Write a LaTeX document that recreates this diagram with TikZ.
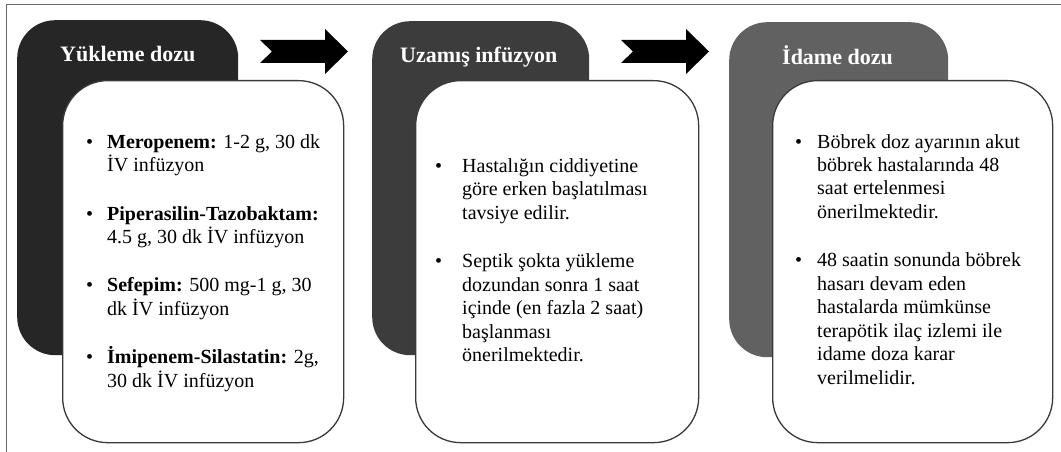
\documentclass[tikz,border=0pt]{standalone}
\usepackage{fontspec}
\setmainfont{Liberation Serif}
\definecolor{dark1}{HTML}{262626}
\definecolor{dark2}{HTML}{3C3C3C}
\definecolor{dark3}{HTML}{616161}
\definecolor{edgegray}{HTML}{3A3A3A}
\definecolor{framegray}{HTML}{6A6A6A}
\newcommand\mitem[2][21pt]{\par\hangindent=#1\hangafter=1\noindent\makebox[#1][l]{\textbullet}#2\par}
\newcommand\itemgap{\vskip 25pt}
\newcommand\nl{\hfil\break}
\newcommand\bodytext[1]{\vtop{\hsize=280pt\fontsize{20}{23.5}\selectfont\parindent=0pt\parskip=0pt\rightskip=0pt plus 1fil #1}}
\tikzset{
  darkbox/.style={rounded corners=38pt, inner sep=0pt, anchor=north west},
  whitebox/.style={draw=edgegray, line width=1.3pt, fill=white, rounded corners=45pt, inner sep=0pt, anchor=north west},
  titletext/.style={anchor=base west, inner sep=0pt, text=white, font=\fontsize{22}{26}\selectfont\bfseries},
  bodynode/.style={anchor=base west, inner sep=0pt},
  blockarrow/.style={fill=black, draw=none},
  framestyle/.style={draw=framegray, line width=1.2pt}
}
\begin{document}
\begin{tikzpicture}[x=1pt,y=-1pt]
\useasboundingbox (0,0) rectangle (1061,452);
\fill[white] (0,0) rectangle (1061,452);
% frame
\coordinate (fTR) at (1061,4.5);
\coordinate (fTL) at (6.5,4.5);
\coordinate (fBL) at (6.5,452);
\draw[framestyle] (fTR) -- (fTL) -- (fBL);

% dark header boxes
\node[darkbox, fill=dark1, minimum width=221pt, minimum height=335pt] (d1) at (17,20) {};
\node[darkbox, fill=dark2, minimum width=217pt, minimum height=334pt] (d2) at (372,21) {};
\node[darkbox, fill=dark3, minimum width=219pt, minimum height=335pt] (d3) at (729,22) {};

% titles
\node[titletext] (t1) at (60,62) {Yükleme dozu};
\node[titletext] (t2) at (400,63) {Uzamış infüzyon};
\node[titletext] (t3) at (782,65) {İdame dozu};

% white content boxes
\node[whitebox, minimum width=281pt, minimum height=362pt] (w1) at (62,80) {};
\node[whitebox, minimum width=283pt, minimum height=362pt] (w2) at (415,80) {};
\node[whitebox, minimum width=280pt, minimum height=362pt] (w3) at (772,80) {};

% arrows
\coordinate (a1) at (260,51.5);
\coordinate (a2) at (621,51.5);
\foreach \a in {a1,a2}{
  \fill[blockarrow] (\a) ++(0,-11.5) -- ++(12,11.5) -- ++(-12,11.5) -- ++(65,0) -- ++(0,11) -- ++(23,-22.5) -- ++(-23,-22.5) -- ++(0,11) -- cycle;
}

% body texts
\node[bodynode] (b1) at (86,148) {\bodytext{%
\mitem{\textbf{Meropenem:} 1-2 g, 30 dk\nl İV infüzyon}\itemgap
\mitem{\textbf{Piperasilin-Tazobaktam:}\nl 4.5 g, 30 dk İV infüzyon}\itemgap
\mitem{\textbf{Sefepim:} 500 mg-1 g, 30\nl dk İV infüzyon}\itemgap
\mitem{\textbf{İmipenem-Silastatin:} 2g,\nl 30 dk İV infüzyon}}};

\node[bodynode] (b2) at (435,172) {\bodytext{%
\mitem[27pt]{Hastalığın ciddiyetine\nl göre erken başlatılması\nl tavsiye edilir.}\itemgap
\mitem[27pt]{Septik şokta yükleme\nl dozundan sonra 1 saat\nl içinde (en fazla 2 saat)\nl başlanması\nl önerilmektedir.}}};

\node[bodynode] (b3) at (795,148) {\bodytext{%
\mitem[22pt]{Böbrek doz ayarının akut\nl böbrek hastalarında 48\nl saat ertelenmesi\nl önerilmektedir.}\itemgap
\mitem[22pt]{48 saatin sonunda böbrek\nl hasarı devam eden\nl hastalarda mümkünse\nl terapötik ilaç izlemi ile\nl idame doza karar\nl verilmelidir.}}};
\end{tikzpicture}
\end{document}
